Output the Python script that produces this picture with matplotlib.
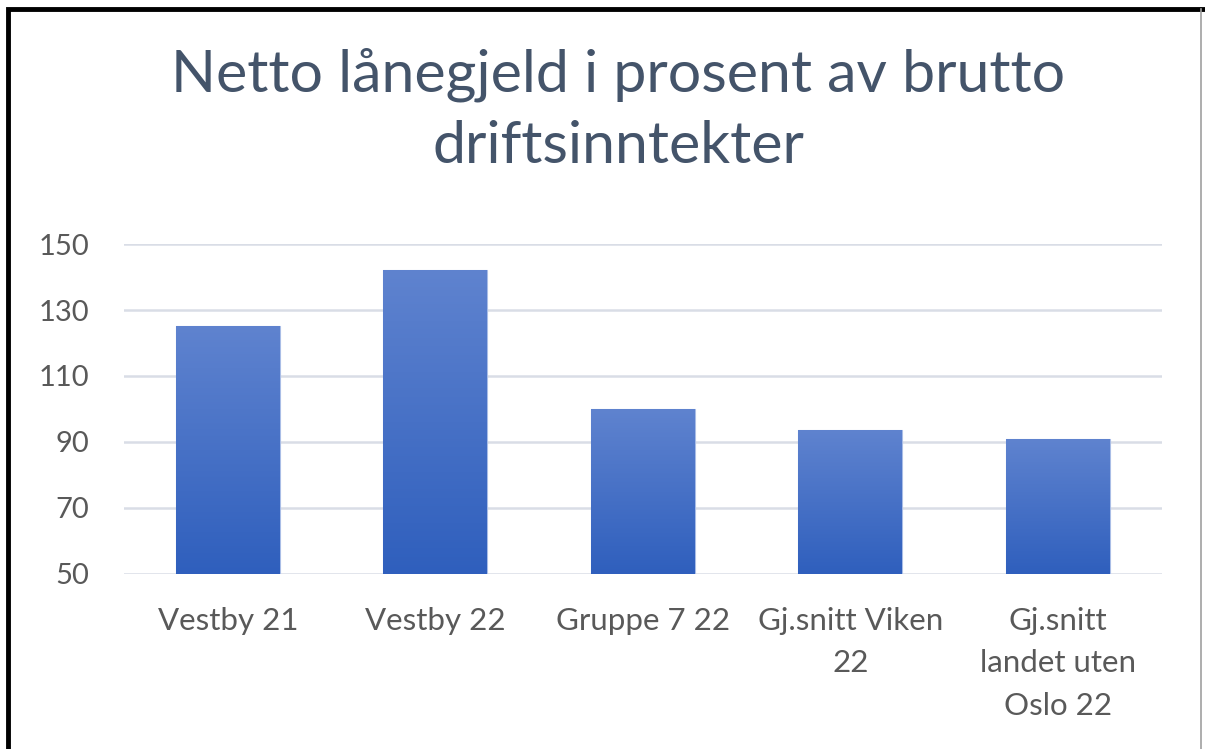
import numpy as np
import matplotlib.pyplot as plt
from matplotlib.colors import LinearSegmentedColormap
from matplotlib.patches import Rectangle

categories = ["Vestby 21", "Vestby 22", "Gruppe 7 22", "Gj.snitt Viken\n22",
              "Gj.snitt\nlandet uten\nOslo 22"]
values = [125.2, 142.1, 100.0, 93.6, 90.8]
yticks = [50, 70, 90, 110, 130, 150]

plt.rcParams['font.family'] = ['Lato', 'DejaVu Sans']

fig = plt.figure(figsize=(12.05, 7.49), dpi=100)
fig.patch.set_facecolor('white')

# frame around the picture (thick black on left/top, thin grey on right)
fig.add_artist(Rectangle((0.007, -0.02), 1.05, 1.008, transform=fig.transFigure,
                         fill=False, edgecolor='black', linewidth=3.5))
fig.add_artist(plt.Line2D([0.9965, 0.9965], [0, 0.988], transform=fig.transFigure,
                          color='#a0a0a0', linewidth=1.2))

ax = fig.add_axes([0.103, 0.234, 0.861, 0.44])
x = np.arange(len(categories))

cmap = LinearSegmentedColormap.from_list('bar', ['#2f5fbd', '#5f83cf'])
grad = np.linspace(0, 1, 256).reshape(-1, 1)

bars = ax.bar(x, values, width=0.5, bottom=0, color='#4672c8',
              edgecolor='#a9bde6', linewidth=0.8, zorder=2)
for b, v in zip(bars, values):
    im = ax.imshow(grad, cmap=cmap, aspect='auto', origin='lower',
                   extent=[b.get_x(), b.get_x() + b.get_width(), 50, v],
                   zorder=2.5, interpolation='bicubic')
    im.set_clip_path(b)

ax.set_xlim(-0.5, len(categories) - 0.5)
ax.set_ylim(50, 150)
ax.set_yticks(yticks)
ax.set_xticks(x)
ax.set_xticklabels(categories, linespacing=1.62)
ax.yaxis.grid(True, color='#d9dde6', linewidth=1.8, zorder=0)
ax.set_axisbelow(True)
for s in ax.spines.values():
    s.set_visible(False)
ax.tick_params(length=0, colors='#595959')
ax.tick_params(axis='y', pad=25, labelsize=21)
ax.tick_params(axis='x', pad=24, labelsize=22.5)
for lbl in ax.get_xticklabels() + ax.get_yticklabels():
    lbl.set_color('#595959')

fig.text(0.513, 0.853, "Netto lånegjeld i prosent av brutto\ndriftsinntekter",
         ha='center', va='center', fontsize=42.5, color='#44546a', linespacing=1.42)

fig.savefig('out.png', dpi=100, facecolor='white')
